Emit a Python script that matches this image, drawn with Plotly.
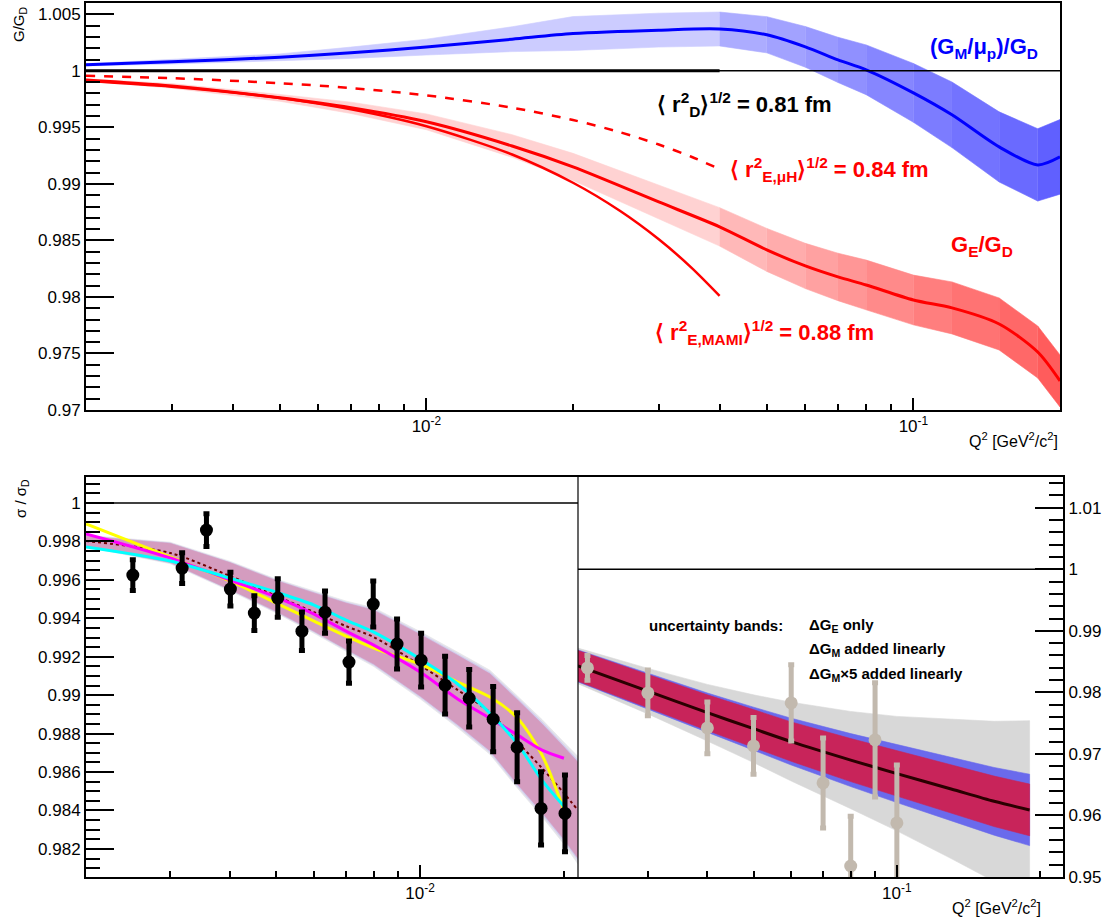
import math
import plotly.graph_objects as go

# ---------------- data: top panel ----------------
TOP_Q = [0.002, 0.003, 0.005, 0.007, 0.01, 0.015, 0.02, 0.03, 0.04, 0.05,
         0.06, 0.07, 0.08, 0.1, 0.12, 0.15, 0.18, 0.2]
GM_RATIO = [1.00053, 1.0008, 1.0012, 1.0016, 1.0021, 1.0028, 1.0033, 1.0036, 1.0037, 1.00319,
            1.00212, 1.00097, 1.00009, 0.99805, 0.99611, 0.99327, 0.99168, 0.99239]
GM_ERR = [0.0001, 0.0002, 0.0003, 0.0005, 0.0007, 0.0011, 0.0015, 0.0015, 0.0015, 0.0016,
          0.0018, 0.002, 0.0022, 0.0026, 0.0029, 0.0031, 0.0032, 0.0033]
GE_RATIO = [0.9992, 0.99867, 0.99761, 0.99673, 0.99549, 0.99335, 0.9915, 0.9884, 0.9862, 0.98416,
            0.98274, 0.98177, 0.98106, 0.97973, 0.97903, 0.97761, 0.97513, 0.97257]
GE_ERR = [0.0001, 0.0002, 0.0003, 0.0005, 0.0007, 0.001, 0.0012, 0.0015, 0.0017, 0.0019,
          0.002, 0.0021, 0.0022, 0.0022, 0.0023, 0.0023, 0.0023, 0.0023]

RAD_Q = [0.002, 0.003, 0.005, 0.007, 0.01, 0.015, 0.02, 0.025, 0.03, 0.035, 0.04]
MAMI_RATIO = [0.9991, 0.9986, 0.9976, 0.9966, 0.9951, 0.9926, 0.9901, 0.9876, 0.9851, 0.9826, 0.9801]
MUH_RATIO = [0.99956, 0.99935, 0.99891, 0.99848, 0.99783, 0.99674, 0.99565, 0.99457, 0.99348, 0.9924, 0.99131]
DIPOLE_Q = [0.002, 0.04]
DIPOLE_RATIO = [1.0, 1.0]

TOP_YTICKS = [0.97, 0.975, 0.98, 0.985, 0.99, 0.995, 1.0, 1.005]
TOP_YTEXT = ["0.97", "0.975", "0.98", "0.985", "0.99", "0.995", "1", "1.005"]
DEC_TICKS = [0.01, 0.1]
DEC_TEXT = ["10<sup>-2</sup>", "10<sup>-1</sup>"]
TOP_XMINOR = [0.003, 0.004, 0.005, 0.006, 0.007, 0.008, 0.009,
              0.02, 0.03, 0.04, 0.05, 0.06, 0.07, 0.08, 0.09]

# ---------------- data: bottom-left panel ----------------
DATA_Q = [0.002506, 0.003178, 0.003573, 0.00401, 0.0045, 0.005038, 0.00566, 0.006326, 0.0071,
          0.00798, 0.00895, 0.01005, 0.01128, 0.01267, 0.01422, 0.01596, 0.01791, 0.0201]
DATA_SIG = [0.99625, 0.99661, 0.99859, 0.99552, 0.99427, 0.99505, 0.99333, 0.99432, 0.99172,
            0.99474, 0.99266, 0.99182, 0.99052, 0.98984, 0.98875, 0.98729, 0.98411, 0.98385]
DATA_ERR = [0.0008, 0.0008, 0.00085, 0.00088, 0.0009, 0.001, 0.001, 0.0011, 0.0011,
            0.0012, 0.0013, 0.0014, 0.0015, 0.0015, 0.0017, 0.0018, 0.0019, 0.002]

FIT_Q = [0.002, 0.003, 0.004, 0.005, 0.006, 0.007, 0.008, 0.01, 0.012, 0.014, 0.016, 0.018, 0.02]
FIT_YELLOW = [0.99891, 0.99719, 0.99594, 0.99479, 0.99385, 0.99307, 0.99245, 0.99161, 0.99068,
              0.9899, 0.9888, 0.98688, 0.98401]
FIT_MAGENTA = [0.99839, 0.99714, 0.99599, 0.9951, 0.99422, 0.99333, 0.9926, 0.9912, 0.98979,
               0.9888, 0.98792, 0.98714, 0.98672]
FIT_CYAN = [0.99771, 0.99698, 0.99609, 0.99536, 0.99469, 0.99391, 0.99328, 0.99188, 0.99057,
            0.98906, 0.98745, 0.98557, 0.98422]

LOW_Q = [0.002, 0.003, 0.004, 0.005, 0.006, 0.007, 0.008, 0.01, 0.012, 0.014, 0.016, 0.018, 0.02, 0.0214]
LOW_CENTER = [0.99802, 0.9974, 0.9962, 0.99516, 0.99432, 0.99359, 0.99302, 0.99156, 0.99026,
              0.98911, 0.98755, 0.9862, 0.9849, 0.98401]
LOW_ERR_E = [0.00025, 0.0005, 0.0007, 0.0008, 0.001, 0.0012, 0.0014, 0.0016, 0.0018,
             0.002, 0.0022, 0.0023, 0.0024, 0.0025]
LOW_ERR_M = [0.00027, 0.00052, 0.00072, 0.00083, 0.00103, 0.00124, 0.00145, 0.00166, 0.00187,
             0.00208, 0.00229, 0.0024, 0.0025, 0.0026]
LOW_ERR_M5 = [0.0003, 0.00056, 0.00077, 0.00088, 0.0011, 0.00131, 0.00153, 0.00175, 0.00197,
              0.00219, 0.0024, 0.00253, 0.00265, 0.0028]

LOW_YTICKS = [0.982, 0.984, 0.986, 0.988, 0.99, 0.992, 0.994, 0.996, 0.998, 1.0]
LOW_YTEXT = ["0.982", "0.984", "0.986", "0.988", "0.99", "0.992", "0.994", "0.996", "0.998", "1"]
LOW_XMINOR = [0.003, 0.004, 0.005, 0.006, 0.007, 0.008, 0.009, 0.02]

# ---------------- data: bottom-right panel ----------------
HIGH_Q = [0.0214, 0.03, 0.04, 0.05, 0.06, 0.08, 0.1, 0.13, 0.16, 0.19]
HIGH_CENTER = [0.9843, 0.9802, 0.9767, 0.9741, 0.972, 0.969, 0.9668, 0.9643, 0.9623, 0.9609]
HIGH_ERR_E = [0.0025, 0.0027, 0.0029, 0.0031, 0.0032, 0.0035, 0.0037, 0.0039, 0.0041, 0.0042]
HIGH_ERR_M = [0.0026, 0.0029, 0.0032, 0.0035, 0.0038, 0.0043, 0.0047, 0.0052, 0.0055, 0.0058]
HIGH_ERR_M5 = [0.0029, 0.0037, 0.0046, 0.0055, 0.0064, 0.0079, 0.0093, 0.0113, 0.013, 0.0145]

OLD_Q = [0.0224, 0.03, 0.04, 0.05, 0.06, 0.07, 0.08, 0.09, 0.1]
OLD_SIG = [0.98398, 0.97992, 0.97423, 0.9713, 0.97829, 0.96528, 0.95179, 0.97228, 0.95878]
OLD_ERR = [0.002, 0.0037, 0.0042, 0.0046, 0.0062, 0.0073, 0.0081, 0.0093, 0.0094]

HIGH_YTICKS = [0.95, 0.96, 0.97, 0.98, 0.99, 1.0, 1.01]
HIGH_YTEXT = ["0.95", "0.96", "0.97", "0.98", "0.99", "1", "1.01"]
HIGH_XMINOR = [0.03, 0.04, 0.05, 0.06, 0.07, 0.08, 0.09, 0.2]

# ---------------- figure ----------------
W, H = 1112, 920
FONT = "Liberation Sans, Arial, Helvetica, sans-serif"
fig = go.Figure()


def band(q, c, h, color, xa, ya, i0=0, i1=None):
    if i1 is None:
        i1 = len(q) - 1
    qq = q[i0:i1 + 1]
    up = [a + b for a, b in zip(c[i0:i1 + 1], h[i0:i1 + 1])]
    lo = [a - b for a, b in zip(c[i0:i1 + 1], h[i0:i1 + 1])]
    fig.add_trace(go.Scatter(x=qq + qq[::-1], y=up + lo[::-1], fill="toself", fillcolor=color,
                             line=dict(width=0.6, color=color), mode="lines", xaxis=xa, yaxis=ya,
                             hoverinfo="skip", showlegend=False))


def curve(q, v, color, width, xa, ya, dash="solid"):
    fig.add_trace(go.Scatter(x=q, y=v, mode="lines", line=dict(color=color, width=width, dash=dash,
                                                               shape="spline", smoothing=0.8),
                             xaxis=xa, yaxis=ya, hoverinfo="skip", showlegend=False))


def mix(c0, c1, t):
    return "rgb(%d,%d,%d)" % tuple(round(a + (b - a) * t) for a, b in zip(c0, c1))


# top panel bands: light up to Q^2 = 0.04, then shade deepens to the right
N = len(TOP_Q)
band(TOP_Q, GM_RATIO, GM_ERR, "rgb(204,204,255)", "x", "y", 0, 8)
band(TOP_Q, GE_RATIO, GE_ERR, "rgb(255,210,210)", "x", "y", 0, 8)
for i in range(8, N - 1):
    t = (i - 8) / (N - 10)
    band(TOP_Q, GM_RATIO, GM_ERR, mix((172, 172, 255), (96, 96, 255), t), "x", "y", i, i + 1)
    band(TOP_Q, GE_RATIO, GE_ERR, mix((255, 184, 184), (255, 92, 92), t), "x", "y", i, i + 1)

curve(DIPOLE_Q, DIPOLE_RATIO, "black", 3, "x", "y")
curve(TOP_Q, GM_RATIO, "#0000ff", 3, "x", "y")
curve(TOP_Q, GE_RATIO, "#ff0000", 3, "x", "y")
curve(RAD_Q, MAMI_RATIO, "#ff0000", 2.5, "x", "y")
curve(RAD_Q, MUH_RATIO, "#ff0000", 2.5, "x", "y", dash="dash")

# bottom-left panel
band(LOW_Q, LOW_CENTER, LOW_ERR_M5, "#e4e4ea", "x2", "y2")
band(LOW_Q, LOW_CENTER, LOW_ERR_M, "#d0cbee", "x2", "y2")
band(LOW_Q, LOW_CENTER, LOW_ERR_E, "#d49cbf", "x2", "y2")
curve(LOW_Q, LOW_CENTER, "#700000", 2, "x2", "y2", dash="dot")
curve(FIT_Q, FIT_YELLOW, "#ffff00", 3, "x2", "y2")
curve(FIT_Q, FIT_MAGENTA, "#ff00ff", 3, "x2", "y2")
curve(FIT_Q, FIT_CYAN, "#00ffff", 3, "x2", "y2")
fig.add_trace(go.Scatter(x=DATA_Q, y=DATA_SIG, mode="markers",
                         marker=dict(color="black", size=13),
                         error_y=dict(type="data", array=DATA_ERR, color="black", thickness=5, width=3),
                         xaxis="x2", yaxis="y2", hoverinfo="skip", showlegend=False))

# bottom-right panel
band(HIGH_Q, HIGH_CENTER, HIGH_ERR_M5, "#d8d8d8", "x3", "y3")
band(HIGH_Q, HIGH_CENTER, HIGH_ERR_M, "#6a6aec", "x3", "y3")
band(HIGH_Q, HIGH_CENTER, HIGH_ERR_E, "#c8245a", "x3", "y3")
curve(HIGH_Q, HIGH_CENTER, "#2a0000", 3, "x3", "y3")
fig.add_trace(go.Scatter(x=OLD_Q, y=OLD_SIG, mode="markers",
                         marker=dict(color="#c2b9ae", size=13),
                         error_y=dict(type="data", array=OLD_ERR, color="#c2b9ae", thickness=5, width=3),
                         xaxis="x3", yaxis="y3", hoverinfo="skip", showlegend=False))

TICKFONT = dict(family=FONT, size=17, color="black")


def xax(rng, dom, anchor, minor_vals):
    return dict(type="log", range=[math.log10(rng[0]), math.log10(rng[1])], domain=dom, anchor=anchor,
                tickmode="array", tickvals=DEC_TICKS, ticktext=DEC_TEXT, ticks="inside", ticklen=12,
                tickwidth=1.5, tickcolor="black",
                minor=dict(tickmode="array", tickvals=minor_vals, ticks="inside", ticklen=6,
                           tickwidth=1.5, tickcolor="black"),
                showline=True, linewidth=2, linecolor="black", mirror=True, automargin=False,
                showgrid=False, zeroline=False, tickfont=TICKFONT)


def yax(rng, dom, anchor, vals, text, minor_dt, side="left", mirror=True):
    return dict(range=rng, domain=dom, anchor=anchor, side=side, tickmode="array", tickvals=vals,
                ticktext=text, ticks="inside", ticklen=28, tickwidth=1.5, tickcolor="black",
                minor=dict(tickmode="linear", tick0=vals[0], dtick=minor_dt, ticks="inside",
                           ticklen=14, tickwidth=1.5, tickcolor="black"),
                showline=True, linewidth=2, linecolor="black", mirror=mirror, automargin=False,
                showgrid=False, zeroline=False, tickfont=TICKFONT)


top_y = [1 - 410 / H, 1 - 3 / H]
bot_y = [1 - 877 / H, 1 - 477 / H]
fig.update_layout(
    width=W, height=H, margin=dict(l=0, r=0, t=0, b=0, pad=0, autoexpand=False),
    paper_bgcolor="white", plot_bgcolor="white", showlegend=False,
    font=dict(family=FONT, color="black"),
    xaxis=xax([0.002, 0.2], [86 / W, 1060 / W], "y", TOP_XMINOR),
    yaxis=yax([0.97, 1.006], top_y, "x", TOP_YTICKS, TOP_YTEXT, 0.001),
    xaxis2=xax([0.002, 0.0214], [86 / W, 578 / W], "y2", LOW_XMINOR),
    yaxis2=yax([0.98054, 1.00135], bot_y, "x2", LOW_YTICKS, LOW_YTEXT, 0.0005, mirror=False),
    xaxis3=xax([0.0214, 0.2233], [578 / W, 1063 / W], "y3", HIGH_XMINOR),
    yaxis3=yax([0.95, 1.015], bot_y, "x3", HIGH_YTICKS, HIGH_YTEXT, 0.002, side="right", mirror=False),
)

# reference lines at unity and the thin divider between the lower pads
for xr, yr in [("x domain", "y"), ("x2 domain", "y2"), ("x3 domain", "y3")]:
    fig.add_shape(type="line", xref=xr, yref=yr, x0=0, x1=1, y0=1, y1=1,
                  line=dict(color="black", width=1.5))
fig.add_shape(type="line", xref="x2 domain", yref="y2 domain", x0=1, x1=1, y0=0, y1=1,
              line=dict(color="black", width=1.2))


def label(text, px, py, color="black", size=22, xanchor="left", angle=0, bold=True):
    t = "<b>" + text + "</b>" if bold else text
    fig.add_annotation(text=t, xref="paper", yref="paper", x=px / W, y=1 - py / H,
                       xanchor=xanchor, yanchor="middle", showarrow=False, textangle=angle,
                       font=dict(family=FONT, size=size, color=color))


label("(G<sub>M</sub>/μ<sub>p</sub>)/G<sub>D</sub>", 984, 48, "#0000ff", xanchor="center")
label("⟨ r<sup>2</sup><sub>D</sub>⟩<sup>1/2</sup> = 0.81 fm", 655, 105)
label("⟨ r<sup>2</sup><sub>E,μH</sub>⟩<sup>1/2</sup> = 0.84 fm", 728, 170, "#ff0000")
label("G<sub>E</sub>/G<sub>D</sub>", 982, 246, "#ff0000", xanchor="center")
label("⟨ r<sup>2</sup><sub>E,MAMI</sub>⟩<sup>1/2</sup> = 0.88 fm", 653, 332, "#ff0000")

label("G/G<sub>D</sub>", 20, 24, size=15, xanchor="center", angle=-90, bold=False)
label("σ / σ<sub>D</sub>", 21, 499, size=15, xanchor="center", angle=-90, bold=False)
label("Q<sup>2</sup> [GeV<sup>2</sup>/c<sup>2</sup>]", 1060, 440, size=16, xanchor="right", bold=False)
label("Q<sup>2</sup> [GeV<sup>2</sup>/c<sup>2</sup>]", 1043, 907, size=16, xanchor="right", bold=False)

label("uncertainty bands:", 647, 625, size=15)
label("ΔG<sub>E</sub> only", 807, 625, size=15)
label("ΔG<sub>M</sub> added linearly", 807, 649, size=15)
label("ΔG<sub>M</sub>×5 added linearly", 807, 674, size=15)

PAGE_FIX = (
    "var s=document.documentElement.style, b=document.body.style;"
    "s.margin='0';s.padding='0';b.margin='0';b.padding='0';"
)
fig.write_html("out.html", config={"displayModeBar": False}, post_script=PAGE_FIX)
